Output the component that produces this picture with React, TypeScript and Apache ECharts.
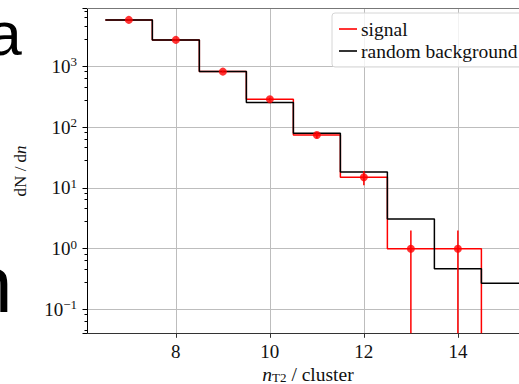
import { useEffect, useRef } from 'react';
import * as echarts from 'echarts';

// Histogram binning: one bin per integer n_T2, bins are 1 wide
const binEdges = [6.5, 7.5, 8.5, 9.5, 10.5, 11.5, 12.5, 13.5, 14.5, 15.5];
const binCenters = [7, 8, 9, 10, 11, 12, 13, 14, 15];
const signalCounts = [5800, 2720, 818, 288, 74, 15, 1, 1, 0];
const signalErrors = [76, 52, 29, 17, 8.6, 3.9, 1, 1, 0];
const backgroundCounts = [5800, 2720, 818, 254, 79, 18.2, 3.08, 0.47, 0.27];
const xTicks = [8, 10, 12, 14];

const X_MIN = 6.11;
const X_MAX = 15.3;
const Y_MIN = 0.0406;
const Y_MAX = 8930;

const SERIF = '"Liberation Serif", "Times New Roman", serif';
const SANS = '"Liberation Sans", Arial, sans-serif';
const RED = '#ff0000';

// Points for a step outline starting at each bin's left edge; empty bins drop to the axis floor
function stepPoints(counts: number[]): [number, number][] {
  const pts: [number, number][] = [];
  counts.forEach((c, i) => pts.push([binEdges[i], c > 0 ? c : Y_MIN]));
  const last = counts[counts.length - 1];
  if (last > 0) pts.push([binEdges[counts.length], last]);
  return pts;
}

function powerLabel(v: number): string {
  const l = Math.log10(v);
  const e = Math.round(l);
  if (Math.abs(l - e) > 1e-6) return '';
  const exp = e < 0 ? '\u2212' + -e : String(e);
  return `{b|10}{s|${exp}}`;
}

export default function App() {
  const ref = useRef<HTMLDivElement>(null);

  useEffect(() => {
    if (!ref.current) return;
    const chart = echarts.init(ref.current, undefined, { renderer: 'svg' });

    const errorData = binCenters
      .map((c, i) => ({ c, v: signalCounts[i], e: signalErrors[i] }))
      .filter((d) => d.v > 0)
      .map((d) => [d.c, Math.max(d.v - d.e, Y_MIN), d.v + d.e]);

    const pointData = binCenters
      .map((c, i) => [c, signalCounts[i]])
      .filter((d) => d[1] > 0);

    chart.setOption({
      animation: false,
      backgroundColor: '#ffffff',
      grid: {
        left: 87,
        right: 0,
        top: 8.5,
        bottom: 50.7,
        containLabel: false,
        outerBoundsMode: 'none',
      },
      legend: {
        data: ['signal', 'random background'],
        orient: 'vertical',
        left: 332,
        top: 13,
        padding: [6, 8, 6, 7],
        itemGap: 2,
        itemWidth: 18,
        itemHeight: 1.6,
        icon: 'rect',
        backgroundColor: 'rgba(255,255,255,0.8)',
        borderColor: '#d6d6d6',
        borderWidth: 1,
        borderRadius: 3,
        textStyle: { fontFamily: SERIF, fontSize: 19.5, color: '#111', padding: [0, 0, 0, -1] },
      },
      xAxis: [
        {
          type: 'value',
          min: X_MIN,
          max: X_MAX,
          minInterval: 2,
          maxInterval: 2,
          name: '{i|n}{sub|T2}{r| / cluster}',
          nameLocation: 'middle',
          nameGap: 31,
          nameMoveOverlap: false,
          nameTextStyle: {
            padding: [0, 0, 0, 10],
            rich: {
              i: { fontFamily: SERIF, fontSize: 19.5, fontStyle: 'italic', color: '#111' },
              sub: { fontFamily: SERIF, fontSize: 13, color: '#111', padding: [7, 0, 0, 0] },
              r: { fontFamily: SERIF, fontSize: 19.5, color: '#111' },
            },
          },
          axisLine: { show: true, onZero: false, lineStyle: { color: '#333', width: 1 } },
          axisTick: { show: true, inside: false, length: 4.5, lineStyle: { color: '#333' } },
          axisLabel: {
            margin: 9,
            fontFamily: SERIF,
            fontSize: 19,
            color: '#111',
            showMinLabel: false,
            showMaxLabel: false,
            formatter: (v: number) => (xTicks.includes(v) ? String(v) : ''),
          },
          splitLine: { show: true, lineStyle: { color: '#bdbdbd', width: 1 } },
        },
        {
          type: 'value',
          position: 'top',
          min: X_MIN,
          max: X_MAX,
          axisLine: { show: true, onZero: false, lineStyle: { color: '#777', width: 1 } },
          axisTick: { show: false },
          axisLabel: { show: false },
          splitLine: { show: false },
        },
      ],
      yAxis: {
        type: 'log',
        logBase: 10,
        min: Y_MIN,
        max: Y_MAX,
        name: '{r|dN / d}{i|n}',
        nameLocation: 'middle',
        nameGap: 58,
        nameMoveOverlap: false,
        nameRotate: 90,
        nameTextStyle: {
          rich: {
            r: { fontFamily: SERIF, fontSize: 17, color: '#111' },
            i: { fontFamily: SERIF, fontSize: 17, fontStyle: 'italic', color: '#111' },
          },
        },
        axisLine: { show: true, onZero: false, lineStyle: { color: '#000', width: 1 } },
        axisTick: { show: true, inside: false, length: 4.5, lineStyle: { color: '#000' } },
        minorTick: { show: true, length: 2.5, lineStyle: { color: '#000' } },
        axisLabel: {
          margin: 10,
          showMinLabel: false,
          showMaxLabel: false,
          formatter: powerLabel,
          rich: {
            b: { fontFamily: SERIF, fontSize: 19, color: '#111' },
            s: { fontFamily: SERIF, fontSize: 13, color: '#111', padding: [0, 0, 9, 0] },
          },
        },
        splitLine: { show: true, lineStyle: { color: '#bdbdbd', width: 1 } },
      },
      graphic: [
        {
          type: 'text',
          x: -12.8,
          y: 33.5,
          silent: true,
          style: { text: 'a', font: `62px ${SANS}`, fill: '#000', align: 'left', verticalAlign: 'middle' },
        },
        {
          type: 'text',
          x: -31.6,
          y: 284.6,
          silent: true,
          style: { text: 'n', font: `79px ${SANS}`, fill: '#000', align: 'left', verticalAlign: 'middle' },
        },
      ],
      series: [
        {
          name: 'signal',
          type: 'line',
          step: 'end',
          data: stepPoints(signalCounts),
          symbol: 'none',
          color: RED,
          lineStyle: { color: RED, width: 1.5 },
          z: 2,
        },
        {
          name: 'random background',
          type: 'line',
          step: 'end',
          data: stepPoints(backgroundCounts),
          symbol: 'none',
          color: '#000',
          lineStyle: { color: '#000', width: 1.5 },
          z: 3,
        },
        {
          name: 'signal errors',
          type: 'custom',
          data: errorData,
          encode: { x: 0, y: [1, 2] },
          z: 4,
          renderItem: (_p: any, api: any) => {
            const x = api.value(0);
            const a = api.coord([x, api.value(1)]);
            const b = api.coord([x, api.value(2)]);
            return {
              type: 'line',
              shape: { x1: a[0], y1: a[1], x2: b[0], y2: b[1] },
              style: { stroke: RED, lineWidth: 1.5 },
            };
          },
        },
        {
          name: 'signal points',
          type: 'scatter',
          data: pointData,
          symbol: 'circle',
          symbolSize: 8,
          itemStyle: { color: RED },
          z: 5,
        },
      ],
    });

    return () => chart.dispose();
  }, []);

  return (
    <div
      ref={ref}
      style={{ position: 'fixed', left: 0, top: 0, width: 519, height: 384, overflow: 'hidden' }}
    />
  );
}
